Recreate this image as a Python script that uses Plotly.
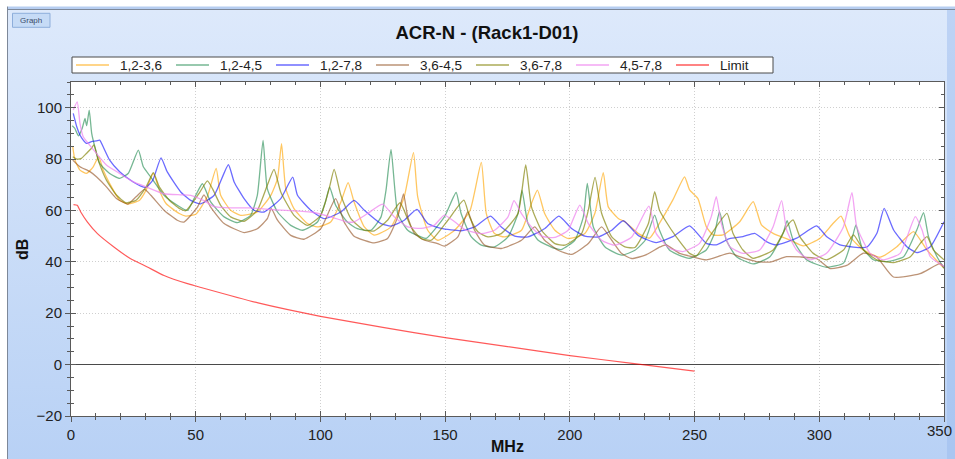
import base64
import plotly.graph_objects as go

# ---------------------------------------------------------------- data
series_names = ["1,2-3,6", "1,2-4,5", "1,2-7,8", "3,6-4,5", "3,6-7,8", "4,5-7,8", "Limit"]

x_ticks = [0, 50, 100, 150, 200, 250, 300, 350]
y_ticks = [-20, 0, 20, 40, 60, 80, 100]

mhz_12_36 = [0.7, 1.6, 3.6, 6.2, 8.9, 11.1, 12.9, 15.5, 19.5, 22.8, 27.5, 30.1, 33, 35.4, 38.1, 43.4, 46, 50,
             54.6, 58.2, 60, 64, 68, 74.7, 80.1, 82.8, 84.4, 86.1, 89.4, 94.8, 98.8, 104.1, 108.2, 111.1, 113.5,
             117.6, 121.6, 128.3, 133.6, 137.3, 139, 143, 147, 153.8, 160, 164.5, 166.5, 169.8, 173.9, 180.6,
             184.6, 187, 189.9, 194, 199.3, 206, 210, 213.4, 215.4, 219.4, 222.1, 227.5, 231.9, 235.9, 241.3,
             246, 248, 251.3, 254.7, 257.4, 261.4, 268.1, 273.5, 276.8, 281.5, 288.2, 293.6, 300.3, 305.6,
             308.7, 312.3, 317.7, 324.4, 331.1, 337.8, 343.2, 350]
db_12_36 = [84.8, 79.6, 75.7, 74.4, 77, 80.9, 75.7, 70.5, 64, 62.5, 64, 67.9, 74.4, 67.9, 62.7, 58.8, 57.8, 58.5,
            65.3, 76.4, 65.9, 60.1, 58.1, 59.4, 65.9, 72.4, 86, 68.5, 60.7, 54.9, 53.6, 55.5, 63.3, 70.8, 63.3,
            53.6, 50.4, 53.6, 65.3, 82.5, 65.3, 52.3, 48.4, 52.3, 60, 78.7, 58.8, 51, 49.7, 52.3,
            62.7, 67.9, 58.8, 52.3, 49.1, 51, 58.8, 74.7, 61.4, 56.9, 55.6, 51, 49.2, 55, 64.1,
            73.1, 68, 64.7, 53.7, 50.5, 50.5, 55.6, 63.4, 54.4, 51.1, 48.5, 46.2, 49.2, 55,
            57.8, 49.8, 44.6, 41.8, 45.9, 51.8, 44.6, 37.5]

mhz_12_45 = [0.5, 1.5, 3, 4.5, 5.6, 6.3, 7.3, 8.3, 9.5, 11.5, 15.5, 19.5, 23, 27, 29, 32, 37.3, 42.6, 46.7, 50,
             52.7, 56, 61.4, 66.7, 72, 74.7, 77, 78.7, 82.8, 88.1, 92.8, 98.8, 102, 103.7, 106.1, 110.8, 114.8,
             120.2, 124.3, 126.3, 128.3, 131, 135, 140.3, 142.4, 149.7, 154.4, 156.4, 160.5, 164.5, 169.8,
             175.2, 179.2, 180.8, 183.2, 187.3, 194, 196.6, 202, 205.4, 207, 209.4, 214.1, 220.8, 226.1,
             230.2, 234, 235.9, 239.9, 245.3, 248, 254.7, 258, 260, 262.7, 266.8, 273.5, 280.2, 285.5, 287.1,
             289.5, 294.9, 302.9, 309.7, 313, 314.7, 317, 321.7, 327.1, 333.8, 339.1, 341.8, 343.8, 347.2, 350]
db_12_45 = [93, 92, 89, 92, 95.8, 93, 99, 90, 85, 78.3, 74.4, 72.5, 74.5, 83.5, 77, 73, 65.9, 62, 60, 65.9,
            70.4, 63.3, 57.5, 55.3, 58.1, 65.9, 87.3, 68.5, 59.4, 54.2, 52.3, 55.5, 63.3, 69.1, 62, 55.5, 52.9,
            52.3, 57.5, 67.9, 83.8, 58.8, 52.3, 49.7, 49.1, 57.5, 67, 58.8, 49.7, 46.5, 45.8,
            49.7, 58.8, 67.9, 54.9, 48.4, 45.2, 44.8, 48.4, 57.5, 70.5, 53.6, 45.8, 42.6, 44.5,
            48.4, 58.2, 52.4, 44.6, 42, 41.4, 44.6, 51.1, 59.5, 48.5, 42, 39.2, 42, 51.1, 56,
            48.5, 40.8, 37.9, 39.5, 48.5, 54.4, 45.9, 40.8, 40.1, 42, 52.4, 59.1, 49.8, 42, 37.5]

mhz_12_78 = [0.9, 2.3, 3.6, 4.9, 6.2, 8.2, 10.2, 11.5, 12.9, 15.5, 19.5, 24.8, 28.8, 30.1, 32.8, 36.1, 38.6,
             44, 48, 52, 57.4, 63.1, 65.4, 69.4, 73.4, 77.4, 84.1, 88.9, 90.8, 96.1, 101.5, 108.2, 113.5,
             117.6, 124.3, 128.3, 133.6, 138.7, 143, 148.4, 156.4, 161.8, 168.2, 172.5, 177.9, 183.2, 190,
             195.6, 200.7, 206, 211.4, 216.8, 221.4, 227.5, 234.6, 241.3, 248, 254.7, 258.7, 264, 269.4,
             274.1, 278.8, 282.8, 290.9, 298.9, 303, 308.3, 319, 323.1, 326, 329.8, 335.1, 339.1, 344.5, 350]
db_12_78 = [97.8, 92.6, 89.4, 87.4, 86.1, 86.8, 87.1, 87.4, 84.8, 79.6, 75.1, 71.2, 69.2, 69, 71.8, 80.5, 75,
            67.2, 63.9, 62.6, 65.9, 77.8, 71.1, 64.6, 60.1, 59.4, 64.6, 73, 65.9, 60.1, 56.8, 59.4, 63.9,
            60.1, 54.9, 53.9, 56.2, 60.4, 54.9, 53, 52.1, 53.6, 57.8, 53.6, 50, 49.7, 53,
            57.8, 53, 50, 49.7, 52.3, 56, 50.2, 47.5, 49.8, 54, 47.2, 46.6, 49, 49.8,
            51.1, 47.9, 46.6, 49.2, 54, 49.8, 46.6, 45.7, 51.1, 60.8, 52.4, 45.9, 43.6, 45.9, 55.6]

mhz_36_45 = [0.7, 3.6, 7.6, 10.2, 14.2, 18.2, 22.8, 26.1, 29.5, 32, 37.3, 42.6, 45.3, 50.7, 53.3, 56, 61.4,
             69.4, 74.7, 78.7, 80.3, 82.8, 88.1, 93.4, 100.1, 106.1, 109.5, 113.5, 117.6, 121.6, 126.9, 131,
             133.3, 135, 137.7, 141.7, 147, 149.7, 155.1, 159.1, 161.8, 165.8, 172.5, 180.6, 185.9, 189.9,
             195.3, 200.7, 207.4, 212.7, 216.8, 220.8, 224.8, 230.2, 236.2, 238.6, 244, 249.5, 254.7, 264.2,
             268.1, 274.8, 280.3, 286.9, 292.3, 299, 304.3, 311, 317.7, 323, 329.7, 340.4, 348.4, 350]
db_36_45 = [79.6, 77, 75.1, 73.1, 69.2, 64.7, 62.5, 65.3, 68.2, 65.9, 60.1, 56.2, 55.5, 61.3, 66.1, 61.3, 54.9,
            51.4, 52.9, 56.8, 60.7, 56.2, 50.3, 48.8, 52.9, 64.6, 55.5, 50, 48.4, 47.4, 49.1, 57.5,
            66.4, 57.5, 51, 48.4, 47.1, 46.1, 49.7, 59.5, 52.3, 46.5, 45.2, 48.4, 53.6, 48.4,
            44.5, 42.9, 47.1, 53.6, 48.4, 43.2, 41.3, 42.6, 45.8, 46.6, 43.3, 41.9, 40.8, 43.4,
            42, 40.1, 39.9, 42, 41.9, 41.2, 37.4, 38.6, 43.4, 41.9, 34.1, 35.4, 39.3, 38]

mhz_36_78 = [0.7, 2.3, 4.2, 6.2, 8.2, 9.2, 10.9, 14.2, 18.2, 22.1, 26.1, 30.1, 33, 35.4, 39.4, 43.4, 46, 51.3,
             54.7, 56.7, 60, 64, 69.4, 74.7, 78.7, 81.4, 84.1, 89.4, 94.8, 100.1, 103.5, 105.5, 108.2, 112.2,
             117.5, 121.6, 126.9, 131.9, 136.3, 140.3, 144.4, 151.1, 157.5, 159.8, 163.1, 167.2, 172.5, 179.2,
             182.3, 184.6, 188.6, 194, 198, 204.7, 207.4, 210.1, 212.7, 216.8, 222.1, 226.1, 231.5, 234,
             235.9, 238.6, 242.6, 248, 250.7, 256, 263, 265.4, 269.4, 273.5, 281.5, 286.9, 289.5, 292.2,
             297.6, 302.9, 309.7, 313.7, 317.7, 323.1, 329.8, 336.5, 340.5, 343.2, 345.8, 350]
db_36_78 = [80.9, 80, 80.3, 82.2, 84.2, 85.5, 79.6, 71.8, 66, 63, 64, 69.2, 74.7, 69.2, 64, 60.8, 59.9, 66.6,
            71.5, 68.5, 62, 57.5, 55.8, 60.1, 69.8, 76, 67.2, 58.1, 54.2, 58.1, 68.5, 76, 65.9, 56.8,
            52.3, 52.1, 56.2, 63, 53.6, 49.1, 48.4, 56.2, 64, 57.5, 51.7, 49.7, 51, 58.8,
            77.7, 61.4, 52.3, 47.1, 46.5, 51, 60.1, 72.9, 59, 49.7, 45.8, 45.6, 54.9, 67.3,
            60.2, 55.6, 49.8, 43.3, 42.3, 49.8, 58.9, 51.1, 44.6, 41.4, 44.6, 53.7, 56.3, 49.8,
            43.3, 40.8, 44.6, 50.5, 44.6, 40.8, 39.7, 42, 47.2, 49.8, 44.6, 40.8]

mhz_45_78 = [0.9, 2.5, 3.6, 4.9, 6.9, 10.2, 14.2, 19.5, 24.8, 30.1, 37.3, 44, 48, 53.3, 57.4, 64, 72, 80.1,
             88.1, 96.1, 104.1, 110.8, 113.5, 118.9, 124.9, 129.6, 135, 140.3, 145.7, 149.7, 153.8, 158,
             164.5, 169.8, 175.2, 177.6, 180.6, 184.6, 188.6, 194, 199.3, 204, 207.4, 212.7, 218.1, 224.8,
             231.7, 234.6, 239.9, 245.3, 252, 256.7, 258.7, 260.7, 264.1, 269.4, 276.1, 281.5, 284.9, 286.9,
             290.9, 296.2, 302.9, 309.7, 313.1, 315, 320.4, 325.7, 332.4, 338.5, 341.2, 344.5, 350]
db_45_78 = [99.1, 102.3, 93.9, 88.7, 86.1, 82.2, 77.7, 74.4, 71.2, 69.2, 66.5, 66.1, 65.9, 63.8, 61.5, 61, 61,
            60.3, 59.9, 59.4, 57.5, 55.5, 55.6, 58.8, 62.5, 57.5, 53.6, 53, 54.3, 58.2, 55.6, 52.5,
            51, 52.3, 57.5, 63.8, 58.8, 53.6, 50, 49.5, 52.3, 62.1, 54.9, 48.4, 46.5, 49.7,
            61.7, 51.1, 45.3, 44, 47.2, 57.6, 65.4, 55, 45.9, 43.3, 44.6, 53.7, 63.8, 52.4,
            44.6, 40.8, 43.3, 53.7, 66.9, 53.7, 43.3, 40.8, 43.3, 57.6, 52.4, 42, 38.2]

mhz_limit = [1, 2.5, 3.9, 6.6, 10.6, 17.2, 23.9, 30.6, 37.3, 46.7, 50.4, 75, 100, 125, 150, 175, 200, 225, 250]
db_limit = [62.3, 62, 59.4, 55.5, 51, 45.8, 41.2, 38, 34.7, 31.5, 30.5, 24, 18.8, 14.5, 10.5, 7, 3.5, 0.5, -2.5]

freqs = [mhz_12_36, mhz_12_45, mhz_12_78, mhz_36_45, mhz_36_78, mhz_45_78, mhz_limit]
levels = [db_12_36, db_12_45, db_12_78, db_36_45, db_36_78, db_45_78, db_limit]

# ---------------------------------------------------------------- style
line_colors = [
    "rgba(255,165,0,0.62)",
    "rgba(34,139,80,0.62)",
    "rgba(0,0,255,0.58)",
    "rgba(139,69,19,0.58)",
    "rgba(128,128,0,0.66)",
    "rgba(238,130,238,0.72)",
    "rgba(255,0,0,0.65)",
]

W, H = 955, 459
ML, MR, MT, MB = 71, 11, 82, 43
FONT = "Arial, Liberation Sans, sans-serif"


def px_x(px):
    return (px - ML) / (W - ML - MR)


def px_y(py):
    return (H - MB - py) / (H - MT - MB)


fig = go.Figure()

for name, xs, ys, col in zip(series_names, freqs, levels, line_colors):
    fig.add_trace(go.Scatter(
        x=xs, y=ys, name=name, mode="lines", showlegend=False,
        line=dict(color=col, width=1.3 if name != "Limit" else 1.2, shape="spline", smoothing=0.5),
        hovertemplate="%{x} MHz<br>%{y} dB<extra>" + name + "</extra>",
    ))

# empty trace so the tick-only overlay axes are laid out
fig.add_trace(go.Scatter(x=[], y=[], xaxis="x2", yaxis="y2", showlegend=False, hoverinfo="skip"))

# ---------------------------------------------------------------- panel background
grad_svg = (
    f'<svg xmlns="http://www.w3.org/2000/svg" width="{W}" height="{H}" preserveAspectRatio="none">'
    '<defs><linearGradient id="g" x1="0" y1="0" x2="0" y2="1">'
    '<stop offset="0" stop-color="#dde9fb"/><stop offset="1" stop-color="#b8d1f5"/>'
    '</linearGradient></defs><rect width="100%" height="100%" fill="url(#g)"/></svg>'
)
grad_src = "data:image/svg+xml;base64," + base64.b64encode(grad_svg.encode()).decode()
fig.add_layout_image(dict(
    source=grad_src, xref="paper", yref="paper",
    x=px_x(8), y=px_y(10), sizex=px_x(W) - px_x(8), sizey=px_y(10) - px_y(H),
    xanchor="left", yanchor="top", sizing="stretch", layer="below",
))

shapes = [
    # top strip and frame
    dict(type="rect", xref="paper", yref="paper", x0=px_x(8), x1=px_x(W), y0=px_y(6.5), y1=px_y(9),
         fillcolor="#b6cdf0", line_width=0, layer="below"),
    dict(type="line", xref="paper", yref="paper", x0=px_x(8), x1=px_x(W), y0=px_y(9.5), y1=px_y(9.5),
         line=dict(color="#7d8899", width=1), layer="below"),
    dict(type="line", xref="paper", yref="paper", x0=px_x(7.5), x1=px_x(7.5), y0=px_y(6.5), y1=px_y(H),
         line=dict(color="#7d8899", width=1), layer="below"),
    dict(type="rect", xref="paper", yref="paper", x0=px_x(947), x1=px_x(W), y0=px_y(10), y1=px_y(H),
         fillcolor="rgba(150,185,238,0.45)", line_width=0, layer="below"),
    # plot area
    dict(type="rect", xref="x domain", yref="y domain", x0=0, x1=1, y0=0, y1=1,
         fillcolor="white", line_width=0, layer="below"),
    # "Graph" tab button
    dict(type="rect", xref="paper", yref="paper", x0=px_x(12.5), x1=px_x(50), y0=px_y(13.3), y1=px_y(27.3),
         fillcolor="#c6dbf6", line=dict(color="#8eaedb", width=1), layer="above"),
]

annotations = [
    dict(text="Graph", xref="paper", yref="paper", x=px_x(31.3), y=px_y(20.3), showarrow=False,
         font=dict(family=FONT, size=8, color="#3b4c6b"), xanchor="center", yanchor="middle"),
    dict(text="<b>MHz</b>", xref="paper", yref="paper", x=px_x(507.5), y=px_y(447), showarrow=False,
         font=dict(family=FONT, size=16, color="#111"), xanchor="center", yanchor="middle"),
    dict(text="<b>dB</b>", xref="paper", yref="paper", x=px_x(22), y=px_y(250), showarrow=False,
         textangle=-90, font=dict(family=FONT, size=16, color="#111"), xanchor="center", yanchor="middle"),
    # last x tick label sits against the right edge of the panel
    dict(text=str(x_ticks[-1]), xref="paper", yref="paper", x=px_x(W - 1), y=px_y(430), showarrow=False,
         xanchor="right", yanchor="middle", font=dict(family=FONT, size=15, color="#222")),
]

# ---------------------------------------------------------------- legend (boxed row)
LEG_L, LEG_R, LEG_T, LEG_B = 72, 773, 57, 73
shapes.append(dict(type="rect", xref="paper", yref="paper", x0=px_x(LEG_L), x1=px_x(LEG_R),
                   y0=px_y(LEG_B), y1=px_y(LEG_T), fillcolor="white",
                   line=dict(color="#4a4a4a", width=1), layer="above"))
leg_mid = (LEG_T + LEG_B) / 2
for i, (name, col) in enumerate(zip(series_names, line_colors)):
    x0 = 76 + 100 * i
    shapes.append(dict(type="line", xref="paper", yref="paper", x0=px_x(x0), x1=px_x(x0 + 33),
                       y0=px_y(leg_mid), y1=px_y(leg_mid), line=dict(color=col, width=1.3), layer="above"))
    annotations.append(dict(text=name, xref="paper", yref="paper", x=px_x(x0 + 42), y=px_y(leg_mid + 0.5),
                            showarrow=False, xanchor="left", yanchor="middle",
                            font=dict(family=FONT, size=13.5, color="#222")))

# ---------------------------------------------------------------- axes
x_ticktext = [str(v) for v in x_ticks[:-1]] + [""]

axis_common = dict(
    showline=True, linecolor="#5a5a5a", linewidth=1, mirror=True,
    ticks="outside", ticklen=5, tickcolor="#5a5a5a", tickwidth=1,
    tickfont=dict(family=FONT, size=15, color="#222"),
    showgrid=True, gridcolor="#cfcfcf", gridwidth=1, griddash="1px,2px",
    automargin=False, fixedrange=True,
)
inner_common = dict(
    ticks="inside", ticklen=5, tickcolor="#5a5a5a", tickwidth=1, mirror="ticks",
    showline=False, showgrid=False, zeroline=False, showticklabels=False,
    automargin=False, fixedrange=True,
)

fig.update_layout(
    width=W, height=H,
    margin=dict(l=ML, r=MR, t=MT, b=MB, pad=0),
    paper_bgcolor="white", plot_bgcolor="white",
    showlegend=False,
    title=dict(text="ACR-N - (Rack1-D01)", x=487 / W, xref="container", xanchor="center",
               y=1 - 33 / H, yref="container", yanchor="middle",
               font=dict(family=FONT, size=18.5, color="#111", weight="bold")),
    xaxis=dict(range=[0, 350], tickvals=x_ticks, ticktext=x_ticktext, zeroline=False,
               minor=dict(dtick=10, tick0=0, ticks="outside", ticklen=3, tickcolor="#5a5a5a", showgrid=False),
               **axis_common),
    yaxis=dict(range=[-20, 110], tickvals=y_ticks, zeroline=True, zerolinecolor="#4a4a4a", zerolinewidth=1,
               minor=dict(dtick=5, tick0=0, ticks="outside", ticklen=3, tickcolor="#5a5a5a", showgrid=False),
               **axis_common),
    xaxis2=dict(overlaying="x", anchor="y2", side="bottom", range=[0, 350], tickvals=x_ticks,
                minor=dict(dtick=10, tick0=0, ticks="inside", ticklen=3, tickcolor="#5a5a5a", showgrid=False),
                **inner_common),
    yaxis2=dict(overlaying="y", anchor="x2", side="left", range=[-20, 110], tickvals=y_ticks,
                minor=dict(dtick=5, tick0=0, ticks="inside", ticklen=3, tickcolor="#5a5a5a", showgrid=False),
                **inner_common),
    shapes=shapes,
    annotations=annotations,
)

fig.write_html("out.html")
